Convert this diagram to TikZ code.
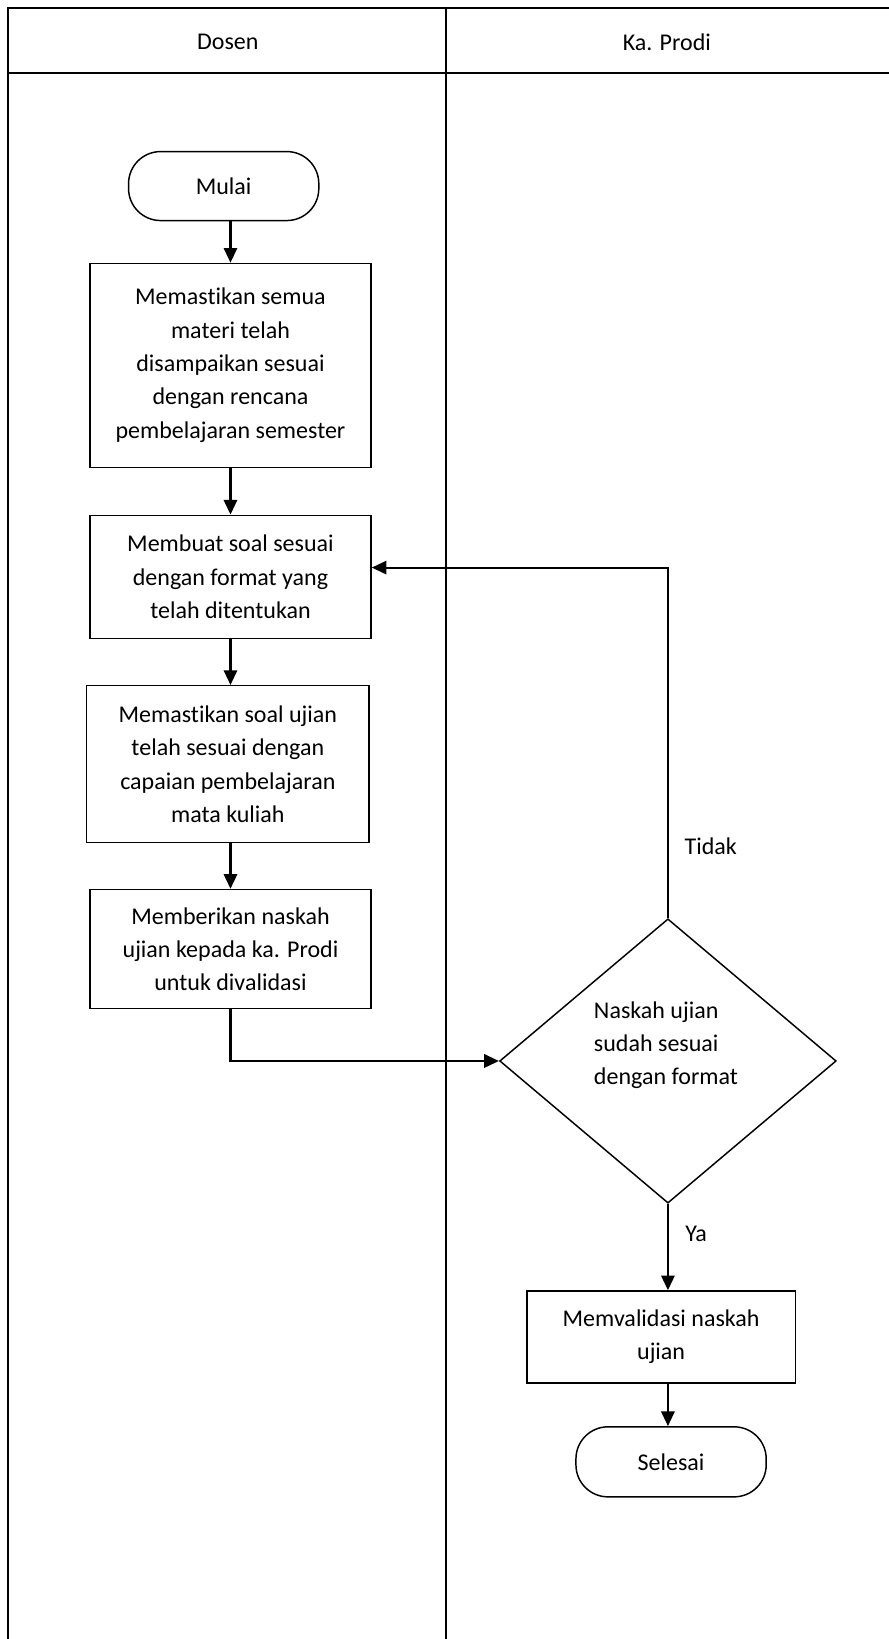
\documentclass[tikz,border=0pt]{standalone}
\usepackage{fontspec}
\setmainfont{Carlito}[Ligatures=NoCommon]
\usetikzlibrary{shapes.geometric,arrows.meta,calc}
\newdimen\pxu \pxu=0.7835pt
\begin{document}
\begin{tikzpicture}[x=0.7835pt,y=-0.7835pt,
  txt/.style={font=\fontsize{18pt}{25pt}\selectfont},
  frame/.style={line width=1.4pt},
  procbox/.style={draw,line width=1.1pt,rectangle,inner sep=0pt,align=center,txt},
  termbox/.style={draw,line width=1.1pt,rectangle,rounded corners=24pt,inner sep=0pt,align=center,txt},
  lbl/.style={inner sep=0pt,align=left,txt},
  arr/.style={line width=1.6pt,-{Triangle[length=11pt,width=10pt]}}]
\useasboundingbox (0,0) rectangle (850,1568);
% swimlane frame
\coordinate (tl) at (8,8);
\coordinate (tr) at (852,8);
\coordinate (bl) at (8,1570);
\coordinate (hl) at (8,70);
\coordinate (hr) at (852,70);
\coordinate (dt) at (427,8);
\coordinate (db) at (427,1570);
\draw[frame] (tr) -- (tl) -- (bl);
\draw[frame] (hl) -- (hr);
\draw[frame] (dt) -- (db);
\node[lbl] (h1) at (218,40) {Dosen};
\node[lbl] (h2) at (638,40) {Ka. Prodi};
% nodes
\node[termbox,minimum width=182\pxu,minimum height=66\pxu] (mulai) at (214,178) {Mulai};
\node[procbox,minimum width=269\pxu,minimum height=195\pxu] (b1) at (220.5,349.5) {Memastikan semua\\materi telah\\disampaikan sesuai\\dengan rencana\\pembelajaran semester};
\node[procbox,minimum width=269\pxu,minimum height=118\pxu] (b2) at (220.5,552) {Membuat soal sesuai\\dengan format yang\\telah ditentukan};
\node[procbox,minimum width=270\pxu,minimum height=150\pxu] (b3) at (218,731) {Memastikan soal ujian\\telah sesuai dengan\\capaian pembelajaran\\mata kuliah};
\node[procbox,minimum width=269\pxu,minimum height=114\pxu] (b4) at (220.5,908) {Memberikan naskah\\ujian kepada ka. Prodi\\untuk divalidasi};
\node[draw,line width=1.1pt,diamond,inner sep=0pt,minimum width=322\pxu,minimum height=272\pxu,aspect=1.18] (d) at (639,1015) {};
\node[lbl,anchor=west] (dtext) at (568,1000) {Naskah ujian\\sudah sesuai\\dengan format};
\node[procbox,minimum width=257\pxu,minimum height=88\pxu] (b5) at (632.5,1279) {Memvalidasi naskah\\ujian};
\node[termbox,minimum width=182\pxu,minimum height=67\pxu] (selesai) at (642,1398.5) {Selesai};
\node[lbl] (tidak) at (680,810) {Tidak};
\node[lbl] (ya) at (666,1180) {Ya};
% connectors
\draw[arr] (mulai.south -| b1.north) -- (b1.north);
\draw[arr] (b1.south) -- (b2.north);
\draw[arr] (b2.south) -- (b2.south |- b3.north);
\draw[arr] (b3.south -| b4.north) -- (b4.north);
\draw[arr] (b4.south) |- (d.west);
\draw[arr] (d.north) |- ($(b2.east)+(0,-9)$);
\draw[arr] (d.south) -- (d.south |- b5.north);
\draw[arr] (d.south |- b5.south) -- (d.south |- selesai.north);
\end{tikzpicture}
\end{document}
